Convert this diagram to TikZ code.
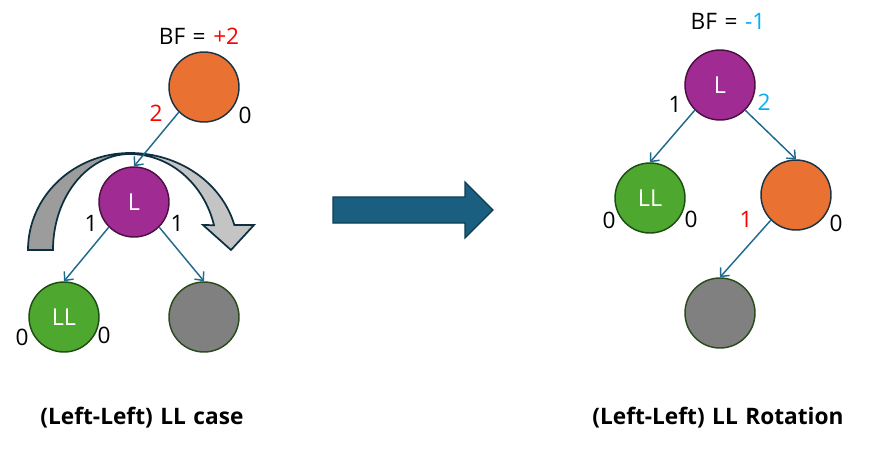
\documentclass[tikz,border=0pt]{standalone}
\usepackage{fontspec}
\setmainfont{Open Sans}
\usetikzlibrary{arrows.meta}
\definecolor{edgec}{HTML}{1F6B8E}
\definecolor{orangec}{HTML}{E97132}
\definecolor{orangeo}{HTML}{1C3344}
\definecolor{purplec}{HTML}{A02B93}
\definecolor{purpleo}{HTML}{4A1040}
\definecolor{greenc}{HTML}{4EA72E}
\definecolor{greeno}{HTML}{1E4D13}
\definecolor{grayc}{HTML}{808080}
\definecolor{grayo}{HTML}{2B4A1E}
\definecolor{cyanc}{HTML}{00B0F0}
\definecolor{bandd}{HTML}{9C9C9C}
\definecolor{bandl}{HTML}{C4C4C4}
\definecolor{bando}{HTML}{0E2F40}
\definecolor{bigarrow}{HTML}{1B5F80}
\definecolor{bigarrowo}{HTML}{0E3D52}
\tikzset{
  tnode/.style={circle, minimum size=52.5pt, inner sep=0pt, line width=1.1pt, text=white, font=\fontsize{17.5}{20}\selectfont},
  lbl/.style={inner sep=0pt, font=\fontsize{17}{20}\selectfont},
  conn/.style={draw=edgec, line width=1.1pt, -{Straight Barb[length=5pt,width=9pt,line width=1.1pt]}},
  band/.style={draw=bando, line width=1.3pt, line join=miter},
  caption/.style={inner sep=0pt, font=\fontsize{17}{20}\selectfont\bfseries}
}
\begin{document}
\begin{tikzpicture}[x=0.75pt,y=-0.75pt]
\useasboundingbox (0,0) rectangle (876,454);
% curved rotation arrow
\path[band, fill=bandd] (28,250) arc[start angle=180, end angle=270, x radius=102, y radius=97] -- (130,154) arc[start angle=270, end angle=180, x radius=77, y radius=96] -- cycle;
\path[band, fill=bandl] (130,153) arc[start angle=270, end angle=345, x radius=108, y radius=97] -- (254,225) -- (231,250) -- (203,225) -- (214,225.2) arc[start angle=345, end angle=270, x radius=87, y radius=96] -- cycle;
% big arrow
\path[draw=bigarrowo, fill=bigarrow, line width=0.9pt] (333,197) -- (465,197) -- (465,182) -- (493,210) -- (465,238) -- (465,223) -- (333,223) -- cycle;
% left tree
\node[lbl] (bf1) at (199,36) {BF\,\,=\,\,\textcolor{red}{+2}};
\node[tnode, fill=orangec, draw=orangeo] (o1) at (204,87) {};
\node[tnode, fill=purplec, draw=purpleo] (l1) at (134,202) {L};
\node[tnode, fill=greenc, draw=greeno] (ll1) at (64,317) {LL};
\node[tnode, fill=grayc, draw=grayo] (g1) at (204,317) {};
\draw[conn] (o1.south west) -- (l1.north);
\draw[conn] (l1.south west) -- (ll1.north);
\draw[conn] (l1.south east) -- (g1.north);
\node[lbl, text=red] (a1) at (156,113) {2};
\node[lbl] (a2) at (245,115) {0};
\node[lbl] (a3) at (91,223) {1};
\node[lbl] (a4) at (177,223) {1};
\node[lbl] (a5) at (22,337) {0};
\node[lbl] (a6) at (104,335) {0};
\node[caption] (c1) at (142,418) {(Left-Left)\,\,LL\,\,case};
% right tree
\node[lbl] (bf2) at (728,21) {BF\,\,=\,\,\textcolor{cyanc}{-1}};
\node[tnode, fill=purplec, draw=purpleo] (l2) at (720,85) {L};
\node[tnode, fill=greenc, draw=greeno] (ll2) at (650,198) {LL};
\node[tnode, fill=orangec, draw=orangeo] (o2) at (796,195) {};
\node[tnode, fill=grayc, draw=grayo] (g2) at (720,313) {};
\draw[conn] (l2.south west) -- (ll2.north);
\draw[conn] (l2.south east) -- (o2.north);
\draw[conn] (o2.south west) -- (g2.north);
\node[lbl] (b1) at (675,104) {1};
\node[lbl, text=cyanc] (b2) at (764,102) {2};
\node[lbl] (b3) at (609,220) {0};
\node[lbl] (b4) at (691,219) {0};
\node[lbl, text=red] (b5) at (746,219) {1};
\node[lbl] (b6) at (836,223) {0};
\node[caption] (c2) at (718,418) {(Left-Left)\,\,LL\,\,Rotation};
\end{tikzpicture}
\end{document}
